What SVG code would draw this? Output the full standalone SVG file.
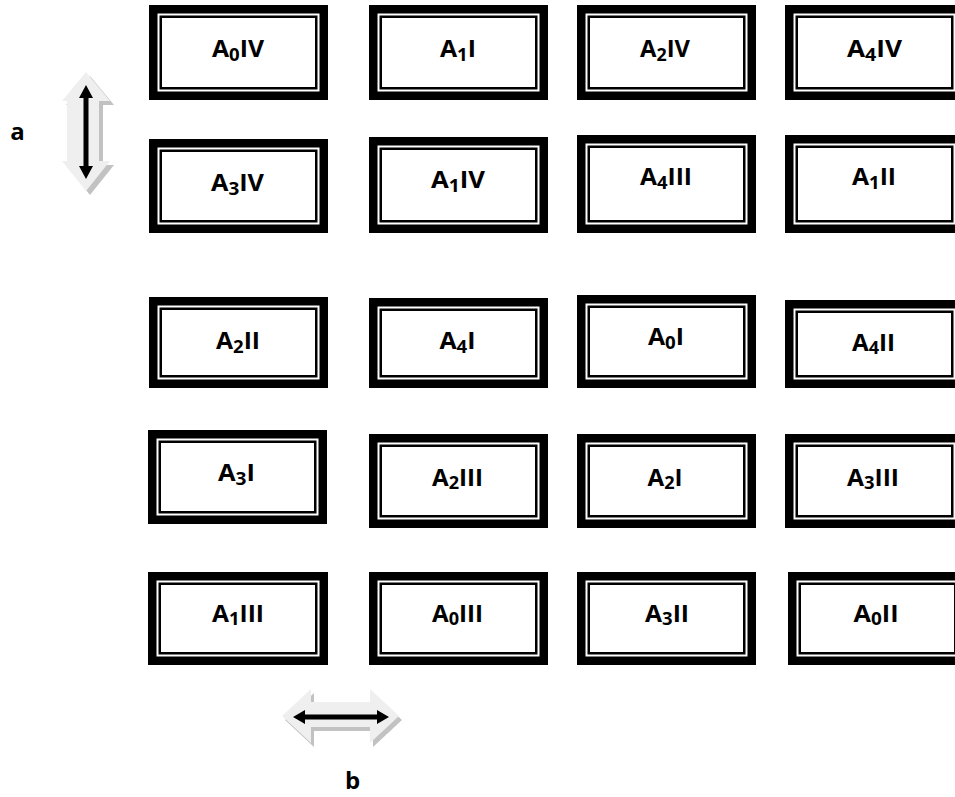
<svg xmlns="http://www.w3.org/2000/svg" width="955" height="797" viewBox="0 0 955 797">
<style>
.o{fill:#fff;stroke:#000;stroke-width:8.5}
.i{fill:none;stroke:#000;stroke-width:2.5}
.t{font-family:"Open Sans","Liberation Sans",sans-serif;font-weight:bold;font-size:24px;fill:#000;text-anchor:middle}
.s{font-size:18px}
.lt{fill:#efefef}
.sh{fill:#c2c2c2}
.bk{fill:#000}
</style>
<defs>
<path id="va" d="M86,72 L110,101 L99,101 L99,161 L110,161 L86,191 L62,161 L67,161 L67,101 L62,101 Z"/>
<path id="ha" d="M282,716 L311,689 L311,702 L370,702 L370,689 L399,716 L370,743 L370,727 L311,727 L311,743 Z"/>
</defs>
<rect width="955" height="797" fill="#fff"/>

<g id="arrows">
<use href="#va" class="sh" transform="translate(4,4)"/>
<use href="#va" class="lt"/>
<path class="bk" d="M86,85 L93,98 L88.5,98 L88.5,166 L93,166 L86,179 L79,166 L83.5,166 L83.5,98 L79,98 Z"/>
<use href="#ha" class="sh" transform="translate(3,4)"/>
<use href="#ha" class="lt"/>
<path class="bk" d="M293,717 L305,710 L305,714.5 L377,714.5 L377,710 L389,717 L377,724 L377,719.5 L305,719.5 L305,724 Z"/>
</g>
<g id="label-a"><text class="t" x="17.5" y="140">a</text></g>
<g id="label-b"><text class="t" x="352.5" y="789">b</text></g>

<!-- Row 1 -->
<g id="A0IV"><rect class="o" x="153.25" y="9.25" width="170.5" height="86.5"/><rect class="i" x="160.75" y="16.75" width="155.5" height="71.5"/>
<text class="t" x="238" y="57" textLength="52" lengthAdjust="spacingAndGlyphs">A<tspan class="s" dy="3.5">0</tspan><tspan dy="-3.5">IV</tspan></text></g>
<g id="A1I"><rect class="o" x="373.25" y="9.25" width="170.5" height="86.5"/><rect class="i" x="380.75" y="16.75" width="155.5" height="71.5"/>
<text class="t" x="458" y="57" textLength="36" lengthAdjust="spacingAndGlyphs">A<tspan class="s" dy="3.5">1</tspan><tspan dy="-3.5">I</tspan></text></g>
<g id="A2IV"><rect class="o" x="581.25" y="9.25" width="170.5" height="86.5"/><rect class="i" x="588.75" y="16.75" width="155.5" height="71.5"/>
<text class="t" x="665" y="57" textLength="50" lengthAdjust="spacingAndGlyphs">A<tspan class="s" dy="3.5">2</tspan><tspan dy="-3.5">IV</tspan></text></g>
<g id="A4IV"><rect class="o" x="789.25" y="9.25" width="170.5" height="86.5"/><rect class="i" x="796.75" y="16.75" width="155.5" height="71.5"/>
<text class="t" x="874.5" y="57" textLength="55" lengthAdjust="spacingAndGlyphs">A<tspan class="s" dy="3.5">4</tspan><tspan dy="-3.5">IV</tspan></text></g>

<!-- Row 2 -->
<g id="A3IV"><rect class="o" x="153.25" y="143.25" width="170.5" height="85.5"/><rect class="i" x="160.75" y="150.75" width="155.5" height="70.5"/>
<text class="t" x="237.5" y="191" textLength="53" lengthAdjust="spacingAndGlyphs">A<tspan class="s" dy="3.5">3</tspan><tspan dy="-3.5">IV</tspan></text></g>
<g id="A1IV"><rect class="o" x="373.25" y="141.25" width="170.5" height="87.5"/><rect class="i" x="380.75" y="148.75" width="155.5" height="72.5"/>
<text class="t" x="458" y="188" textLength="54" lengthAdjust="spacingAndGlyphs">A<tspan class="s" dy="3.5">1</tspan><tspan dy="-3.5">IV</tspan></text></g>
<g id="A4III"><rect class="o" x="581.25" y="139.25" width="170.5" height="89.5"/><rect class="i" x="588.75" y="146.75" width="155.5" height="74.5"/>
<text class="t" x="666" y="185" textLength="52" lengthAdjust="spacingAndGlyphs">A<tspan class="s" dy="3.5">4</tspan><tspan dy="-3.5">III</tspan></text></g>
<g id="A1II"><rect class="o" x="789.25" y="139.25" width="170.5" height="89.5"/><rect class="i" x="796.75" y="146.75" width="155.5" height="74.5"/>
<text class="t" x="874" y="185" textLength="44" lengthAdjust="spacingAndGlyphs">A<tspan class="s" dy="3.5">1</tspan><tspan dy="-3.5">II</tspan></text></g>

<!-- Row 3 -->
<g id="A2II"><rect class="o" x="153.25" y="301.25" width="170.5" height="82.5"/><rect class="i" x="160.75" y="308.75" width="155.5" height="67.5"/>
<text class="t" x="238" y="349" textLength="44" lengthAdjust="spacingAndGlyphs">A<tspan class="s" dy="3.5">2</tspan><tspan dy="-3.5">II</tspan></text></g>
<g id="A4I"><rect class="o" x="373.25" y="302.25" width="170.5" height="81.5"/><rect class="i" x="380.75" y="309.75" width="155.5" height="66.5"/>
<text class="t" x="457.5" y="349" textLength="36" lengthAdjust="spacingAndGlyphs">A<tspan class="s" dy="3.5">4</tspan><tspan dy="-3.5">I</tspan></text></g>
<g id="A0I"><rect class="o" x="581.25" y="299.25" width="170.5" height="84.5"/><rect class="i" x="588.75" y="306.75" width="155.5" height="69.5"/>
<text class="t" x="666" y="345" textLength="36" lengthAdjust="spacingAndGlyphs">A<tspan class="s" dy="3.5">0</tspan><tspan dy="-3.5">I</tspan></text></g>
<g id="A4II"><rect class="o" x="789.25" y="304.25" width="170.5" height="79.5"/><rect class="i" x="796.75" y="311.75" width="155.5" height="64.5"/>
<text class="t" x="873.5" y="350.5" textLength="43" lengthAdjust="spacingAndGlyphs">A<tspan class="s" dy="3.5">4</tspan><tspan dy="-3.5">II</tspan></text></g>

<!-- Row 4 -->
<g id="A3I"><rect class="o" x="152.25" y="434.25" width="170.5" height="85.5"/><rect class="i" x="159.75" y="441.75" width="155.5" height="70.5"/>
<text class="t" x="236.5" y="481" textLength="37" lengthAdjust="spacingAndGlyphs">A<tspan class="s" dy="3.5">3</tspan><tspan dy="-3.5">I</tspan></text></g>
<g id="A2III"><rect class="o" x="373.25" y="438.25" width="170.5" height="85.5"/><rect class="i" x="380.75" y="445.75" width="155.5" height="70.5"/>
<text class="t" x="457.5" y="485.5" textLength="51" lengthAdjust="spacingAndGlyphs">A<tspan class="s" dy="3.5">2</tspan><tspan dy="-3.5">III</tspan></text></g>
<g id="A2I"><rect class="o" x="581.25" y="438.25" width="170.5" height="85.5"/><rect class="i" x="588.75" y="445.75" width="155.5" height="70.5"/>
<text class="t" x="665" y="485.5" textLength="35" lengthAdjust="spacingAndGlyphs">A<tspan class="s" dy="3.5">2</tspan><tspan dy="-3.5">I</tspan></text></g>
<g id="A3III"><rect class="o" x="789.25" y="438.25" width="170.5" height="85.5"/><rect class="i" x="796.75" y="445.75" width="155.5" height="70.5"/>
<text class="t" x="873" y="485.5" textLength="52" lengthAdjust="spacingAndGlyphs">A<tspan class="s" dy="3.5">3</tspan><tspan dy="-3.5">III</tspan></text></g>

<!-- Row 5 -->
<g id="A1III"><rect class="o" x="152.25" y="576.25" width="171.5" height="84.5"/><rect class="i" x="159.75" y="583.75" width="156.5" height="69.5"/>
<text class="t" x="238" y="621.5" textLength="52" lengthAdjust="spacingAndGlyphs">A<tspan class="s" dy="3.5">1</tspan><tspan dy="-3.5">III</tspan></text></g>
<g id="A0III"><rect class="o" x="373.25" y="576.25" width="170.5" height="84.5"/><rect class="i" x="380.75" y="583.75" width="155.5" height="69.5"/>
<text class="t" x="457.5" y="621.5" textLength="51" lengthAdjust="spacingAndGlyphs">A<tspan class="s" dy="3.5">0</tspan><tspan dy="-3.5">III</tspan></text></g>
<g id="A3II"><rect class="o" x="581.25" y="576.25" width="170.5" height="84.5"/><rect class="i" x="588.75" y="583.75" width="155.5" height="69.5"/>
<text class="t" x="667" y="621.5" textLength="44" lengthAdjust="spacingAndGlyphs">A<tspan class="s" dy="3.5">3</tspan><tspan dy="-3.5">II</tspan></text></g>
<g id="A0II"><rect class="o" x="792.25" y="576.25" width="170.5" height="84.5"/><rect class="i" x="799.75" y="583.75" width="155.5" height="69.5"/>
<text class="t" x="876" y="621.5" textLength="45" lengthAdjust="spacingAndGlyphs">A<tspan class="s" dy="3.5">0</tspan><tspan dy="-3.5">II</tspan></text></g>
</svg>
